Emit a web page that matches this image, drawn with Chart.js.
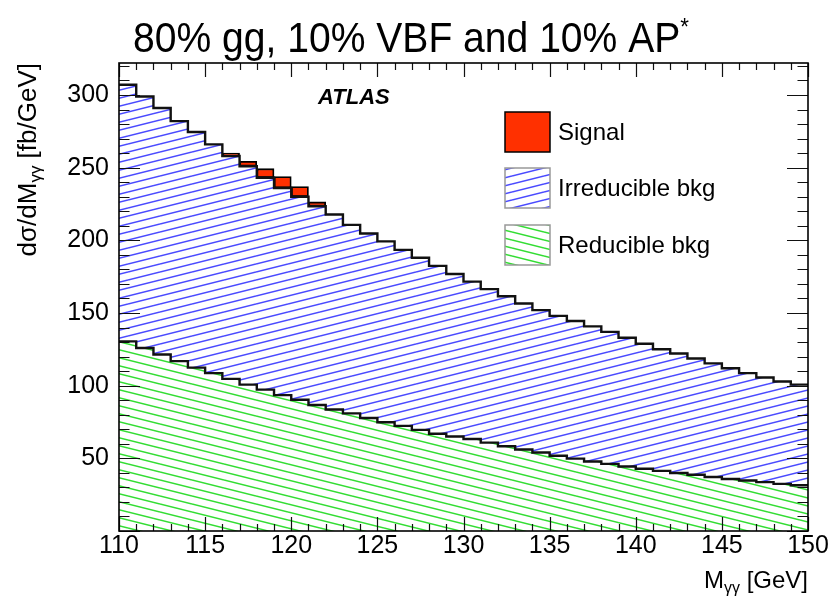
<!DOCTYPE html>
<html>
<head>
<meta charset="utf-8">
<title>80% gg, 10% VBF and 10% AP*</title>
<script src="https://cdn.jsdelivr.net/npm/chart.js@4.4.0/dist/chart.umd.min.js"></script>
<style>
  html, body { margin: 0; padding: 0; background: #fff; }
  canvas { display: block; }
</style>
</head>
<body>
<canvas id="massChart" width="834" height="600"></canvas>
<script>
// Histograma empilhado de M_gg, bins de 1 GeV (borda inferior de cada bin)
const massBins = [110, 111, 112, 113, 114, 115, 116, 117, 118, 119,
                  120, 121, 122, 123, 124, 125, 126, 127, 128, 129,
                  130, 131, 132, 133, 134, 135, 136, 137, 138, 139,
                  140, 141, 142, 143, 144, 145, 146, 147, 148, 149];
const binWidth = 1;

// fb/GeV
const reducibleBkg = [130.5, 125.9, 121.4, 116.9, 112.4, 108.6, 104.7, 100.7, 97.3, 93.5,
                      90.3, 86.7, 83.6, 80.9, 77.7, 74.8, 72.3, 69.6, 66.9, 65.0,
                      63.3, 60.8, 58.3, 56.1, 54.0, 51.8, 49.8, 47.8, 46.2, 44.4,
                      42.8, 41.4, 39.9, 38.7, 37.2, 35.8, 34.7, 33.6, 32.4, 31.5];
const irreducibleBkg = [176.5, 173.1, 169.6, 165.1, 162.1, 157.4, 153.3, 150.3, 145.7, 142.5,
                        139.7, 136.7, 134.2, 129.7, 127.0, 124.5, 121.1, 118.4, 115.5, 111.8,
                        108.3, 105.6, 103.2, 100.4, 98.0, 96.2, 94.7, 93.0, 90.8, 88.6,
                        86.0, 83.6, 82.2, 80.0, 78.1, 76.2, 73.9, 72.0, 70.5, 69.2];
const signalHiggs = [0, 0, 0, 0, 0, 0, 2.0, 3.4, 6.3, 7.9,
                     7.0, 3.0, 0, 0, 0, 0, 0, 0, 0, 0,
                     0, 0, 0, 0, 0, 0, 0, 0, 0, 0,
                     0, 0, 0, 0, 0, 0, 0, 0, 0, 0];

const xTickLabels = [110, 115, 120, 125, 130, 135, 140, 145, 150];
const yTickLabels = [50, 100, 150, 200, 250, 300];

const FONT = '"Liberation Sans", Arial, Helvetica, sans-serif';

function fontOf(size, style) {
    return (style || '') + ' ' + size + 'px ' + FONT;
}

// hachura no estilo ROOT
function hatch(ctx, color, rising) {
    const w = 32, h = 8;
    const c = document.createElement('canvas');
    c.width = w; c.height = h;
    const g = c.getContext('2d');
    g.fillStyle = '#fff';
    g.fillRect(0, 0, w, h);
    g.strokeStyle = color;
    g.lineWidth = 1.5;
    for (let k = -1; k <= 1; k++) {
        g.beginPath();
        if (rising) { g.moveTo(0, h + k * h); g.lineTo(w, k * h); }
        else { g.moveTo(0, k * h); g.lineTo(w, h + k * h); }
        g.stroke();
    }
    return ctx.createPattern(c, 'repeat');
}

function runWidth(ctx, parts) {
    let w = 0;
    parts.forEach(p => { ctx.font = fontOf(p.size, p.style); w += ctx.measureText(p.text).width; });
    return w;
}

function drawRun(ctx, parts, x, y) {
    parts.forEach(p => {
        ctx.font = fontOf(p.size, p.style);
        ctx.fillText(p.text, x, y + (p.dy || 0));
        x += ctx.measureText(p.text).width;
    });
}

const canvas = document.getElementById('massChart');
const ctx = canvas.getContext('2d');
const bluePattern = hatch(ctx, '#4a4aff', true);
const greenPattern = hatch(ctx, '#33dd33', false);
const signalRed = '#ff3000';

const totalBkg = massBins.map((m, i) => reducibleBkg[i] + irreducibleBkg[i]);

function barPoints(values) {
    return massBins.map((m, i) => ({ x: m + binWidth / 2, y: values[i] === 0 ? null : values[i] }));
}

function stepPoints(values) {
    const pts = massBins.map((m, i) => ({ x: m, y: values[i] }));
    pts.push({ x: massBins[massBins.length - 1] + binWidth, y: values[values.length - 1] });
    return pts;
}

// moldura, ticks internos, textos e legenda
const atlasFrame = {
    id: 'atlasFrame',
    afterDatasetsDraw(chart) {
        const c = chart.ctx;
        const a = chart.chartArea;
        const xs = chart.scales.x, ys = chart.scales.y;
        c.save();
        c.strokeStyle = '#111';
        c.lineWidth = 1.2;
        c.beginPath();
        for (let v = xs.min; v <= xs.max; v += 1) {
            const px = Math.round(xs.getPixelForValue(v)) + 0.5;
            const len = v % 5 === 0 ? 14 : 7;
            c.moveTo(px, a.bottom); c.lineTo(px, a.bottom - len);
            c.moveTo(px, a.top); c.lineTo(px, a.top + len);
        }
        for (let v = 0; v <= ys.max; v += 10) {
            const py = Math.round(ys.getPixelForValue(v)) + 0.5;
            const len = v % 50 === 0 ? 21 : 10.5;
            c.moveTo(a.left, py); c.lineTo(a.left + len, py);
            c.moveTo(a.right, py); c.lineTo(a.right - len, py);
        }
        c.stroke();
        c.lineWidth = 1.6;
        c.strokeStyle = '#000';
        c.strokeRect(a.left, a.top, a.right - a.left, a.bottom - a.top);
        c.restore();
    },
    afterDraw(chart) {
        const c = chart.ctx;
        const a = chart.chartArea;
        const xs = chart.scales.x, ys = chart.scales.y;
        c.save();
        c.fillStyle = '#000';

        // rótulos dos ticks
        c.font = fontOf(25);
        c.textAlign = 'center';
        c.textBaseline = 'top';
        xTickLabels.forEach(v => c.fillText(String(v), xs.getPixelForValue(v), a.bottom + 3));
        c.textAlign = 'right';
        c.textBaseline = 'middle';
        yTickLabels.forEach(v => c.fillText(String(v), a.left - 10, ys.getPixelForValue(v)));

        c.textAlign = 'left';
        c.textBaseline = 'alphabetic';

        // título
        const titleParts = [{ text: '80% gg, 10% VBF and 10% AP', size: 42 },
                            { text: '*', size: 24, dy: -17 }];
        const tw = runWidth(c, titleParts);
        c.save();
        c.translate(133, 52);
        c.scale(556 / tw, 1);
        drawRun(c, titleParts, 0, 0);
        c.restore();

        // eixo x
        const xParts = [{ text: 'M', size: 24 }, { text: 'γγ', size: 16, dy: 5 }, { text: ' [GeV]', size: 24 }];
        drawRun(c, xParts, a.right - runWidth(c, xParts), 588);

        // eixo y
        const yParts = [{ text: 'dσ/dM', size: 26 }, { text: 'γγ', size: 17, dy: 5 }, { text: ' [fb/GeV]', size: 26 }];
        const yw = runWidth(c, yParts);
        c.save();
        c.translate(36, a.top + yw);
        c.rotate(-Math.PI / 2);
        drawRun(c, yParts, 0, 0);
        c.restore();

        // ATLAS
        c.font = fontOf(22, 'italic bold');
        c.fillText('ATLAS', 318, 104);

        // legenda
        const ds = chart.data.datasets;
        const entries = [
            { label: ds[2].label, fill: signalRed, border: '#000', top: 112 },
            { label: ds[1].label, fill: bluePattern, border: '#999', top: 168 },
            { label: ds[0].label, fill: greenPattern, border: '#999', top: 225 }
        ];
        entries.forEach(e => {
            c.fillStyle = e.fill;
            c.fillRect(505, e.top, 45, 40);
            c.strokeStyle = e.border;
            c.lineWidth = 1.5;
            c.strokeRect(505, e.top, 45, 40);
            c.fillStyle = '#000';
            c.font = fontOf(24);
            c.textBaseline = 'middle';
            c.fillText(e.label, 558, e.top + 21);
        });
        c.restore();
    }
};

new Chart(ctx, {
    type: 'bar',
    data: {
        datasets: [
            {
                label: 'Reducible bkg',
                data: barPoints(reducibleBkg),
                backgroundColor: greenPattern,
                borderWidth: 0,
                stack: 'bkg'
            },
            {
                label: 'Irreducible bkg',
                data: barPoints(irreducibleBkg),
                backgroundColor: bluePattern,
                borderWidth: 0,
                stack: 'bkg'
            },
            {
                label: 'Signal',
                data: barPoints(signalHiggs),
                backgroundColor: signalRed,
                borderColor: '#000',
                borderWidth: 1.8,
                borderSkipped: false,
                stack: 'bkg'
            },
            {
                type: 'line',
                label: 'reducible outline',
                data: stepPoints(reducibleBkg),
                stepped: true,
                borderColor: '#111',
                borderWidth: 2.4,
                pointRadius: 0,
                fill: false,
                stack: 'line1',
                order: -1
            },
            {
                type: 'line',
                label: 'total outline',
                data: stepPoints(totalBkg),
                stepped: true,
                borderColor: '#111',
                borderWidth: 2.4,
                pointRadius: 0,
                fill: false,
                stack: 'line2',
                order: -1
            }
        ]
    },
    options: {
        responsive: false,
        animation: false,
        events: [],
        layout: { padding: { left: 111, right: 26, top: 63, bottom: 61 } },
        datasets: { bar: { barPercentage: 1, categoryPercentage: 1 } },
        scales: {
            x: {
                type: 'linear',
                min: 110,
                max: 150,
                offset: false,
                stacked: true,
                ticks: { display: false, stepSize: 5 },
                grid: { display: false },
                border: { display: false }
            },
            y: {
                min: 0,
                max: 322,
                stacked: true,
                ticks: { display: false },
                grid: { display: false },
                border: { display: false }
            }
        },
        plugins: {
            legend: { display: false },
            tooltip: { enabled: false }
        }
    },
    plugins: [atlasFrame]
});
</script>
</body>
</html>
